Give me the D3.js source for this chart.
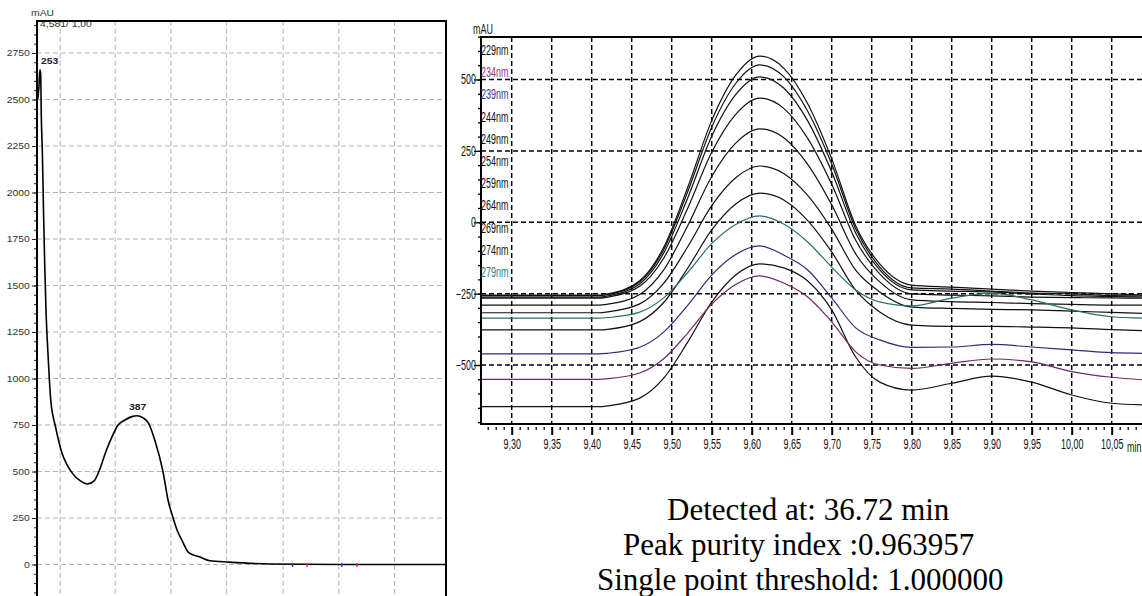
<!DOCTYPE html>
<html>
<head>
<meta charset="utf-8">
<script src="https://cdn.jsdelivr.net/npm/d3@7"></script>
<style>
    body { margin: 0; background: #ffffff; }
    svg { display: block; }
</style>
</head>
<body>
<div id="chart"></div>
<script>

// DATA
// ================================================================================== //

// UV spectrum at the peak apex (left panel): wavelength (nm) / absorbance (mAU)
const specNm = [250, 251.5, 253, 254, 255, 256.5, 258, 259.6, 261.4, 263.8, 266, 268, 271, 274, 278, 283,
    290, 298, 308, 318.5, 328, 334, 345, 353, 361, 370.5, 380, 387, 395, 403, 412, 423, 430, 437,
    443, 449, 459, 474, 488, 514, 571, 667, 814];
const specMau = [2500, 2560, 2660, 2640, 2400, 2200, 1900, 1620, 1370, 1160, 1000, 884, 800, 750, 680, 605,
    540, 490, 452, 433, 450, 495, 616, 690, 750, 777, 795, 800, 790, 760, 665, 500, 347, 250,
    180, 132, 62, 40, 20, 13, 3, 0, 0];

const specPeakNm = [253, 387];
const specPeakMau = [2660, 800];
const specPeakLabels = ["253", "387"];

// small coloured markers sitting on the baseline
const specMarkNm = [602, 622, 670, 691];
const specMarkKind = ["blue", "red", "blue", "red"];

const leftYTicks = [0, 250, 500, 750, 1000, 1250, 1500, 1750, 2000, 2250, 2500, 2750];
const leftGridNm = [281, 357, 434, 511, 589, 666, 743];

// spectra across the peak (right panel): retention time (min) / signal (mAU)
const times = [9.262, 9.41, 9.42, 9.46, 9.49, 9.52, 9.55, 9.58, 9.61, 9.64, 9.67, 9.70, 9.73, 9.76, 9.80,
    9.85, 9.90, 9.95, 10.00, 10.05, 10.09];

const wavelengths = ["229nm", "234nm", "239nm", "244nm", "249nm", "254nm", "259nm", "264nm", "269nm", "274nm", "279nm"];

const trace229 = [-646, -646, -643, -616, -546, -420, -280, -185, -146, -160, -206, -307, -472, -560, -588, -564, -539, -560, -605, -634, -640];
const trace234 = [-550, -550, -548, -528, -478, -388, -287, -218, -188, -213, -262, -349, -454, -500, -512, -494, -479, -489, -523, -543, -552];
const trace239 = [-461, -461, -459, -438, -385, -291, -185, -113, -83, -115, -167, -265, -370, -412, -438, -437, -428, -437, -447, -457, -459];
const trace244 = [-377, -377, -375, -348, -281, -161, -27, 64, 102, 78, 6, -104, -238, -314, -360, -365, -365, -367, -370, -376, -380];
const trace249 = [-317, -317, -314, -286, -214, -86, 58, 156, 197, 171, 94, -24, -168, -244, -297, -302, -305, -307, -311, -316, -319];
const trace254 = [-290, -290, -287, -253, -167, -12, 160, 277, 327, 296, 203, 61, -111, -209, -272, -278, -281, -285, -288, -290, -290];
const trace259 = [-266, -266, -262, -224, -126, 49, 245, 378, 435, 399, 294, 133, -63, -181, -251, -255, -258, -262, -264, -265, -266];
const trace264 = [-262, -262, -258, -216, -108, 85, 301, 447, 509, 470, 355, 177, -38, -167, -237, -241, -244, -251, -257, -260, -262];
const trace269 = [-257, -257, -253, -209, -96, 107, 333, 486, 551, 510, 389, 204, -23, -157, -230, -234, -241, -248, -251, -257, -258];
const trace274 = [-255, -255, -251, -205, -88, 122, 356, 515, 582, 540, 415, 222, -12, -146, -220, -227, -234, -241, -246, -251, -255];
const trace279 = [-336, -336, -334, -315, -265, -176, -75, -8, 22, -6, -69, -157, -237, -279, -293, -266, -248, -272, -307, -331, -336];

const rightYTicks = [500, 250, 0, -250, -500];
const rightXTicks = [9.30, 9.35, 9.40, 9.45, 9.50, 9.55, 9.60, 9.65, 9.70, 9.75, 9.80, 9.85, 9.90, 9.95, 10.00, 10.05];
const rightXLabels = ["9,30", "9,35", "9,40", "9,45", "9,50", "9,55", "9,60", "9,65", "9,70", "9,75", "9,80",
    "9,85", "9,90", "9,95", "10,00", "10,05"];

const infoLines = ["Detected at: 36.72 min", "Peak purity index :0.963957", "Single point threshold: 1.000000"];

// ================================================================================== //
// DATA END


const width = 1142
const height = 596

// panel frames (pixels)
const L = ({ left: 37, top: 21, right: 446, bottom: 640 })
const R = ({ left: 481, top: 37, right: 1142, bottom: 424 })

const traceColor = {
    "234nm": "#6e2a68",
    "239nm": "#2c2c74",
    "279nm": "#2a6e6e",
}
const labelColor = {
    "234nm": "#9a2f86",
    "239nm": "#3535a6",
    "279nm": "#23807e",
}
const markColor = { blue: "#1f3fff", red: "#ff2a2a" }

const traces = wavelengths.map((w, i) => ({
    name: w,
    values: [trace229, trace234, trace239, trace244, trace249, trace254, trace259,
        trace264, trace269, trace274, trace279][i],
}))

const svg = d3.select("#chart")
    .append("svg")
    .attr("width", width)
    .attr("height", height)
    .attr("viewBox", [0, 0, width, height])
    .style("background", "#fff");


// LEFT PANEL: spectrum
// ================================================================================== //

const xL = d3.scaleLinear().domain([249, 814]).range([37, 446])
const yL = d3.scaleLinear().domain([0, 2750]).range([564.5, 53])

const leftG = svg.append("g")

// dashed grey grid
leftG.append("g")
    .selectAll("line")
    .data(leftYTicks)
    .join("line")
    .attr("x1", L.left).attr("x2", L.right)
    .attr("y1", d => yL(d)).attr("y2", d => yL(d))
    .attr("stroke", "#b3b3b3")
    .attr("stroke-width", 1)
    .attr("stroke-dasharray", "5,3");

leftG.append("g")
    .selectAll("line")
    .data(leftGridNm)
    .join("line")
    .attr("x1", d => xL(d)).attr("x2", d => xL(d))
    .attr("y1", L.top).attr("y2", L.bottom)
    .attr("stroke", "#b3b3b3")
    .attr("stroke-width", 1)
    .attr("stroke-dasharray", "5,3");

// minor ticks every 50 mAU
leftG.append("g")
    .attr("transform", `translate(${L.left},0)`)
    .call(d3.axisLeft(yL).tickValues(d3.range(-150, 2901, 50)).tickSize(3).tickFormat(() => ""))
    .call(g => g.select(".domain").remove())
    .call(g => g.selectAll(".tick line").attr("stroke", "#222"));

// major ticks + labels (plain numbers, no thousands separator)
leftG.append("g")
    .attr("transform", `translate(${L.left},0)`)
    .call(d3.axisLeft(yL).tickValues(leftYTicks).tickSize(5).tickPadding(1).tickFormat(d => String(d)))
    .call(g => g.select(".domain").remove())
    .call(g => g.selectAll(".tick line").attr("stroke", "#222"))
    .call(g => g.selectAll("text")
        .attr("font-family", "'Liberation Sans', Arial, sans-serif")
        .attr("font-size", 8.5)
        .attr("fill", "#333")
        .attr("transform", "scale(1.22,1)"));

// spectrum line
const specLine = d3.line()
    .x((d, i) => xL(specNm[i]))
    .y(d => yL(d))
    .curve(d3.curveMonotoneX)

leftG.append("path")
    .datum(specMau)
    .attr("d", specLine)
    .attr("fill", "none")
    .attr("stroke", "#000")
    .attr("stroke-width", 1.6);

leftG.append("g")
    .selectAll("line")
    .data(specMarkNm)
    .join("line")
    .attr("x1", d => xL(d)).attr("x2", d => xL(d))
    .attr("y1", yL(0) - 1.5).attr("y2", yL(0) + 2.5)
    .attr("stroke", (d, i) => markColor[specMarkKind[i]])
    .attr("stroke-width", 1.5);

// frame: y axis, top and right border
leftG.append("path")
    .attr("d", `M${L.left},${L.bottom}V${L.top}H${L.right}V${L.bottom}`)
    .attr("fill", "none")
    .attr("stroke", "#000")
    .attr("stroke-width", 2);

const smallText = (g, x, y, txt, fill) => g.append("text")
    .attr("transform", `translate(${x},${y}) scale(1.22,1)`)
    .attr("font-family", "'Liberation Sans', Arial, sans-serif")
    .attr("font-size", 8.5)
    .attr("fill", fill || "#333")
    .text(txt);

smallText(leftG, 31, 16, "mAU")
smallText(leftG, 40, 27, "4,581/ 1,00")

specPeakLabels.forEach((lab, i) => {
    smallText(leftG, xL(specPeakNm[i]) - (i === 0 ? -1 : 8), yL(specPeakMau[i]) - 6, lab, "#222")
        .attr("font-weight", "bold");
})


// RIGHT PANEL: spectra through the peak
// ================================================================================== //

const xR = d3.scaleLinear().domain([9.30, 10.05]).range([511.7, 1111.7])
const yR = d3.scaleLinear().domain([-500, 500]).range([365, 79.5])

const rightG = svg.append("g")

rightG.append("clipPath")
    .attr("id", "clipR")
    .append("rect")
    .attr("x", R.left).attr("y", R.top)
    .attr("width", R.right - R.left).attr("height", R.bottom - R.top);

// dashed black grid
rightG.append("g")
    .selectAll("line")
    .data(rightYTicks)
    .join("line")
    .attr("x1", R.left).attr("x2", R.right)
    .attr("y1", d => yR(d)).attr("y2", d => yR(d))
    .attr("stroke", "#000")
    .attr("stroke-width", 1.5)
    .attr("stroke-dasharray", "5,3");

rightG.append("g")
    .selectAll("line")
    .data(rightXTicks)
    .join("line")
    .attr("x1", d => xR(d)).attr("x2", d => xR(d))
    .attr("y1", R.top).attr("y2", R.bottom)
    .attr("stroke", "#000")
    .attr("stroke-width", 1.5)
    .attr("stroke-dasharray", "5,3");

// traces
const traceLine = d3.line()
    .x((d, i) => xR(times[i]))
    .y(d => yR(d))
    .curve(d3.curveMonotoneX)

rightG.append("g")
    .attr("clip-path", "url(#clipR)")
    .selectAll("path")
    .data(traces)
    .join("path")
    .attr("d", d => traceLine(d.values))
    .attr("fill", "none")
    .attr("stroke", d => traceColor[d.name] || "#111")
    .attr("stroke-width", 1.2);

const narrow = "'Liberation Sans', Arial, sans-serif"

// y axis: minor + major ticks
rightG.append("g")
    .attr("transform", `translate(${R.left},0)`)
    .call(d3.axisLeft(yR).tickValues(d3.range(-700, 651, 50)).tickSize(3).tickFormat(() => ""))
    .call(g => g.select(".domain").remove())
    .call(g => g.selectAll(".tick line").attr("stroke", "#000").attr("stroke-width", 1.3));

rightG.append("g")
    .attr("transform", `translate(${R.left},0)`)
    .call(d3.axisLeft(yR).tickValues(rightYTicks).tickSize(7).tickPadding(1))
    .call(g => g.select(".domain").remove())
    .call(g => g.selectAll(".tick line").attr("stroke", "#000").attr("stroke-width", 1.3))
    .call(g => g.selectAll("text")
        .attr("font-family", narrow)
        .attr("font-size", 14)
        .attr("fill", "#111")
        .attr("transform", "scale(0.64,1)"));

// x axis: minor + major ticks
rightG.append("g")
    .attr("transform", `translate(0,${R.bottom + 1})`)
    .call(d3.axisBottom(xR).tickValues(d3.range(927, 1009).map(d => d / 100)).tickSize(5).tickFormat(() => ""))
    .call(g => g.select(".domain").remove())
    .call(g => g.selectAll(".tick line").attr("stroke", "#000").attr("stroke-width", 1.3).attr("y1", 2));

rightG.append("g")
    .attr("transform", `translate(0,${R.bottom + 1})`)
    .call(d3.axisBottom(xR).tickValues(rightXTicks).tickSize(10).tickPadding(4)
        .tickFormat((d, i) => rightXLabels[i]))
    .call(g => g.select(".domain").remove())
    .call(g => g.selectAll(".tick line").attr("stroke", "#000").attr("stroke-width", 2).attr("y1", 2))
    .call(g => g.selectAll("text")
        .attr("font-family", narrow)
        .attr("font-size", 14)
        .attr("fill", "#111")
        .attr("transform", "scale(0.64,1)"));

// frame: top border, y axis, x axis
rightG.append("path")
    .attr("d", `M${R.right},${R.top}H${R.left}V${R.bottom}H${R.right}`)
    .attr("fill", "none")
    .attr("stroke", "#000")
    .attr("stroke-width", 2);

const narrowText = (g, x, y, txt, fill) => g.append("text")
    .attr("transform", `translate(${x},${y}) scale(0.64,1)`)
    .attr("font-family", narrow)
    .attr("font-size", 14)
    .attr("fill", fill || "#111")
    .text(txt);

narrowText(rightG, 473, 34, "mAU")
narrowText(rightG, 1127, 452, "min")

// wavelength legend stacked down the y axis
wavelengths.forEach((w, i) => {
    narrowText(rightG, 481, 55 + i * 22.2, w, labelColor[w] || "#111");
})


// PURITY INFO
// ================================================================================== //

const infoX = [667, 623, 597]
svg.append("g")
    .selectAll("text")
    .data(infoLines)
    .join("text")
    .attr("x", (d, i) => infoX[i])
    .attr("y", (d, i) => 520 + i * 35)
    .attr("font-family", "'Liberation Serif', 'Times New Roman', serif")
    .attr("font-size", 31)
    .attr("fill", "#000")
    .text(d => d);

</script>
</body>
</html>
